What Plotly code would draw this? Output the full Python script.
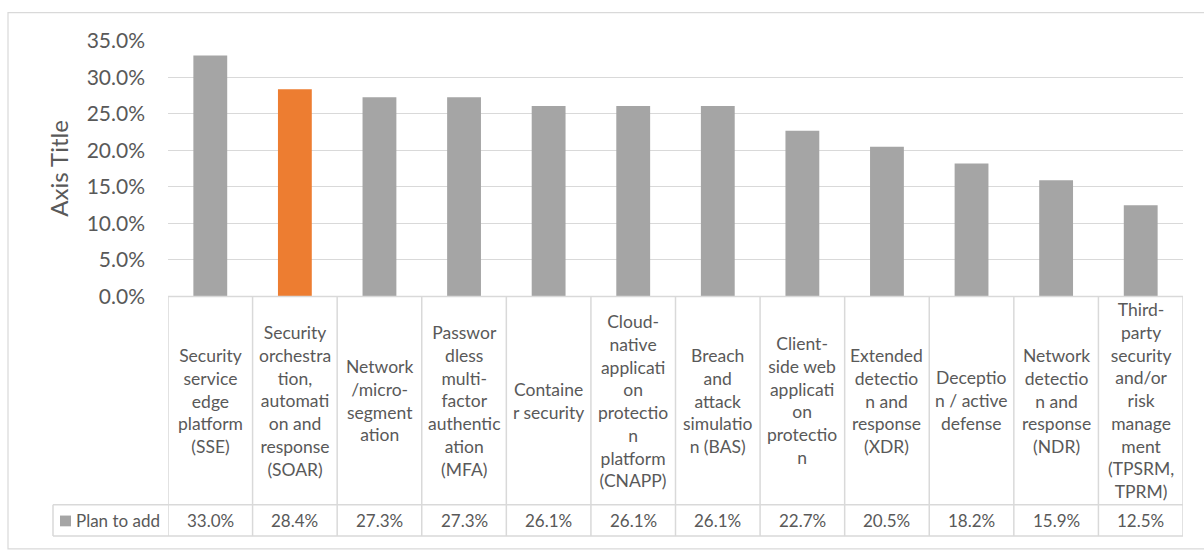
import plotly.graph_objects as go

# ---- data ----
categories = [
    "Security service edge platform (SSE)",
    "Security orchestration, automation and response (SOAR)",
    "Network/micro-segmentation",
    "Passwordless multi-factor authentication (MFA)",
    "Container security",
    "Cloud-native application protection platform (CNAPP)",
    "Breach and attack simulation (BAS)",
    "Client-side web application protection",
    "Extended detection and response (XDR)",
    "Deception / active defense",
    "Network detection and response (NDR)",
    "Third-party security and/or risk management (TPSRM, TPRM)",
]
wrapped_labels = [
    "Security<br>service<br>edge<br>platform<br>(SSE)",
    "Security<br>orchestra<br>tion,<br>automati<br>on and<br>response<br>(SOAR)",
    "Network<br>/micro-<br>segment<br>ation",
    "Passwor<br>dless<br>multi-<br>factor<br>authentic<br>ation<br>(MFA)",
    "Containe<br>r security",
    "Cloud-<br>native<br>applicati<br>on<br>protectio<br>n<br>platform<br>(CNAPP)",
    "Breach<br>and<br>attack<br>simulatio<br>n (BAS)",
    "Client-<br>side web<br>applicati<br>on<br>protectio<br>n",
    "Extended<br>detectio<br>n and<br>response<br>(XDR)",
    "Deceptio<br>n / active<br>defense",
    "Network<br>detectio<br>n and<br>response<br>(NDR)",
    "Third-<br>party<br>security<br>and/or<br>risk<br>manage<br>ment<br>(TPSRM,<br>TPRM)",
]
plan_to_add = [0.330, 0.284, 0.273, 0.273, 0.261, 0.261, 0.261, 0.227, 0.205, 0.182, 0.159, 0.125]
series_name = "Plan to add"
highlight_index = 1
y_tick_vals = [0, 0.05, 0.10, 0.15, 0.20, 0.25, 0.30, 0.35]

# ---- style ----
W, H = 1204, 552
GRAY = "#A5A5A5"
ORANGE = "#ED7D31"
TEXT = "#595959"
GRID = "#D9D9D9"
FONT = "Lato, 'Open Sans', sans-serif"

ML, MR, MT, MB = 168, 21, 41, 0
plot_w = W - ML - MR
plot_h = H - MT - MB


def px_x(X):
    return (X - ML) / plot_w


def px_y(Y):
    return (H - MB - Y) / plot_h


n = len(categories)
xs = list(range(n))
colors = [ORANGE if i == highlight_index else GRAY for i in xs]

fig = go.Figure()
fig.add_trace(go.Bar(
    x=xs, y=plan_to_add, marker=dict(color=colors, line=dict(width=0)),
    name=series_name, showlegend=False, hoverinfo="skip",
))

axis_bottom = 302
row_line = 515
table_bottom = 547
legend_left = 53

shapes = []
line_style = dict(color=GRID, width=1.5)
# table top line (category axis line)
shapes.append(dict(type="line", xref="x", yref="paper", x0=-0.5, x1=n - 0.5,
                   y0=px_y(axis_bottom), y1=px_y(axis_bottom), line=line_style))
# value row lines
for Y in (row_line, table_bottom):
    shapes.append(dict(type="line", xref="paper", yref="paper", x0=px_x(legend_left), x1=1,
                       y0=px_y(Y), y1=px_y(Y), line=line_style))
# vertical lines
for i in range(n + 1):
    shapes.append(dict(type="line", xref="x", yref="paper", x0=i - 0.5, x1=i - 0.5,
                       y0=px_y(axis_bottom), y1=px_y(table_bottom), line=line_style))
shapes.append(dict(type="line", xref="paper", yref="paper", x0=px_x(legend_left), x1=px_x(legend_left),
                   y0=px_y(row_line), y1=px_y(table_bottom), line=line_style))
# legend key square
shapes.append(dict(type="rect", xref="paper", yref="paper", x0=px_x(60), x1=px_x(71),
                   y0=px_y(537), y1=px_y(526), fillcolor=GRAY, line=dict(width=0)))
# chart area border
shapes.append(dict(type="rect", xref="paper", yref="paper", x0=px_x(8), x1=px_x(1215),
                   y0=px_y(12), y1=px_y(560), line=dict(color=GRID, width=1.2), layer="below"))

annotations = []
cat_center = (axis_bottom + row_line) / 2
val_center = (row_line + table_bottom) / 2
for i, (lab, v) in enumerate(zip(wrapped_labels, plan_to_add)):
    annotations.append(dict(x=i, xref="x", y=px_y(cat_center), yref="paper", text=lab,
                            showarrow=False, xanchor="center", yanchor="middle", align="center",
                            font=dict(family=FONT, size=17.5, color=TEXT)))
    annotations.append(dict(x=i, xref="x", y=px_y(val_center), yref="paper", text=f"{v*100:.1f}%",
                            showarrow=False, xanchor="center", yanchor="middle",
                            font=dict(family=FONT, size=17, color=TEXT)))
annotations.append(dict(x=px_x(74), xref="paper", y=px_y(val_center), yref="paper", text=series_name,
                        showarrow=False, xanchor="left", yanchor="middle",
                        font=dict(family=FONT, size=17, color=TEXT)))
annotations.append(dict(x=px_x(59), xref="paper", y=px_y((MT + axis_bottom) / 2), yref="paper",
                        text="Axis Title", textangle=-90, showarrow=False,
                        xanchor="center", yanchor="middle",
                        font=dict(family=FONT, size=24, color=TEXT)))

fig.update_layout(
    width=W, height=H,
    margin=dict(l=ML, r=MR, t=MT, b=MB, pad=0),
    paper_bgcolor="white", plot_bgcolor="white",
    bargap=0.6,
    shapes=shapes, annotations=annotations,
    xaxis=dict(range=[-0.5, n - 0.5], showticklabels=False, showgrid=False, zeroline=False,
               showline=False, ticks="", fixedrange=True),
    yaxis=dict(domain=[px_y(axis_bottom), 1], range=[0, 0.35], tickvals=y_tick_vals,
               tickformat=".1%", showgrid=True, gridcolor=GRID, gridwidth=1.3,
               zeroline=False, showline=False, ticks="", ticklabelstandoff=22,
               tickfont=dict(family=FONT, size=21, color=TEXT), fixedrange=True),
    font=dict(family=FONT, color=TEXT),
)

fig.write_html("out.html")
